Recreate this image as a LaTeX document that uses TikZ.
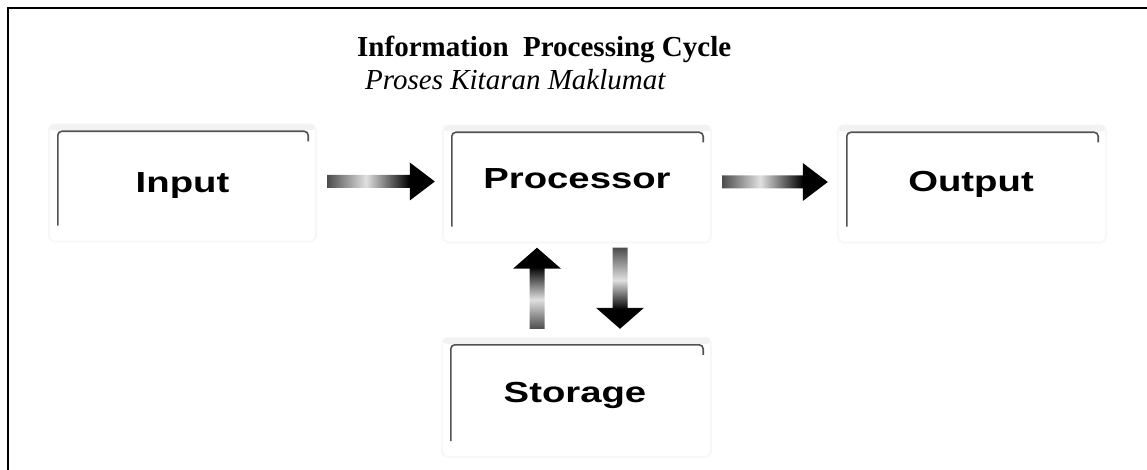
\documentclass[tikz,border=0pt]{standalone}
\usepackage{fontspec}
\setmainfont{Liberation Serif}
\newfontfamily\boxfont{Liberation Sans}[FakeStretch=1.32]
\usetikzlibrary{calc}
\pgfdeclarehorizontalshading{arrowh}{100bp}{color(0bp)=(black!70); color(25bp)=(black!70); color(43bp)=(black!12); color(61bp)=(black!90); color(63bp)=(black); color(100bp)=(black)}
\pgfdeclareverticalshading{arrowup}{100bp}{color(0bp)=(black!70); color(25bp)=(black!70); color(43bp)=(black!12); color(61bp)=(black!90); color(63bp)=(black); color(100bp)=(black)}
\pgfdeclareverticalshading{arrowdown}{100bp}{color(0bp)=(black); color(37bp)=(black); color(39bp)=(black!90); color(55bp)=(black!12); color(75bp)=(black!70); color(100bp)=(black!70)}
\newcommand{\harrowshape}[2]{%
  \shade[shading=arrowh] ($(#1)+(0,-6.5)$) -- ($(#2)+(-25,-6.5)$) -- ($(#2)+(-25,-19)$) -- (#2) -- ($(#2)+(-25,19)$) -- ($(#2)+(-25,6.5)$) -- ($(#1)+(0,6.5)$) -- cycle;}
\newcommand{\varrowshape}[4]{% tail, tip, sign (+1 down / -1 up), shading
  \shade[shading=#4] ($(#1)+(-7.5,0)$) -- ($(#2)+(-7.5,-21*#3)$) -- ($(#2)+(-24,-21*#3)$) -- (#2) -- ($(#2)+(24,-21*#3)$) -- ($(#2)+(7.5,-21*#3)$) -- ($(#1)+(7.5,0)$) -- cycle;}
\tikzset{
  box/.style={minimum width=#1, minimum height=108, inner sep=0, draw=none},
  boxline/.style={draw=black!68, line width=1.6, rounded corners=4},
  halo/.style={draw=black!3, line width=2, rounded corners=7},
  haloband/.style={fill=black!5, draw=none},
  boxtext/.style={font=\boxfont\bfseries\fontsize{29}{34}\selectfont, anchor=base, inner sep=0},
}
\begin{document}
\begin{tikzpicture}[x=1pt, y=-1pt]
\useasboundingbox (0,0) rectangle (1147,470);
% outer frame (top and left visible)
\draw[line width=2] (8,470) -- (8,8) -- (1147,8);
% titles
\node[anchor=base west, inner sep=0, font=\bfseries\fontsize{29}{32}\selectfont] (title) at (357,57) {Information\ \ Processing Cycle};
\node[anchor=base west, inner sep=0, font=\itshape\fontsize{29}{32}\selectfont] (subtitle) at (365,90) {Proses Kitaran Maklumat};
% boxes
\node[box=250] (input) at (183,185.5) {};
\node[box=251] (processor) at (577.5,186.5) {};
\node[box=251] (output) at (972.5,186.5) {};
\node[box=252, minimum height=110] (storage) at (577,400) {};
\foreach \b in {input,processor,output,storage}{
  \draw[halo] ($(\b.south west)+(-9,2)$) rectangle ($(\b.north east)+(8,-7)$);
  \fill[haloband, rounded corners=3] ($(\b.north west)+(-8,-7)$) rectangle ($(\b.north east)+(7,-1)$);
  \draw[boxline] ([yshift=14pt]\b.south west) -- (\b.north west) -- (\b.north east) -- ++(0,10);
}
% labels
\node[boxtext] (tin) at (182.5,193) {Input};
\node[boxtext] (tproc) at (577,189) {Processor};
\node[boxtext] (tout) at (971,192) {Output};
\node[boxtext] (tsto) at (575,402) {Storage};
% arrow end coordinates
\coordinate (a1s) at ($(input.east)+(19,-4)$);
\coordinate (a1e) at ($(processor.west)+(-17,-5)$);
\coordinate (a2s) at ($(processor.east)+(19,-4.5)$);
\coordinate (a2e) at ($(output.west)+(-19,-4.5)$);
\coordinate (ups) at ($(storage.north)+(-40,-16)$);
\coordinate (upe) at ($(processor.south)+(-40.5,7)$);
\coordinate (dns) at ($(processor.south)+(42.5,7)$);
\coordinate (dne) at ($(storage.north)+(43,-16)$);
\harrowshape{a1s}{a1e}
\harrowshape{a2s}{a2e}
\varrowshape{ups}{upe}{-1}{arrowup}
\varrowshape{dns}{dne}{1}{arrowdown}
\end{tikzpicture}
\end{document}
